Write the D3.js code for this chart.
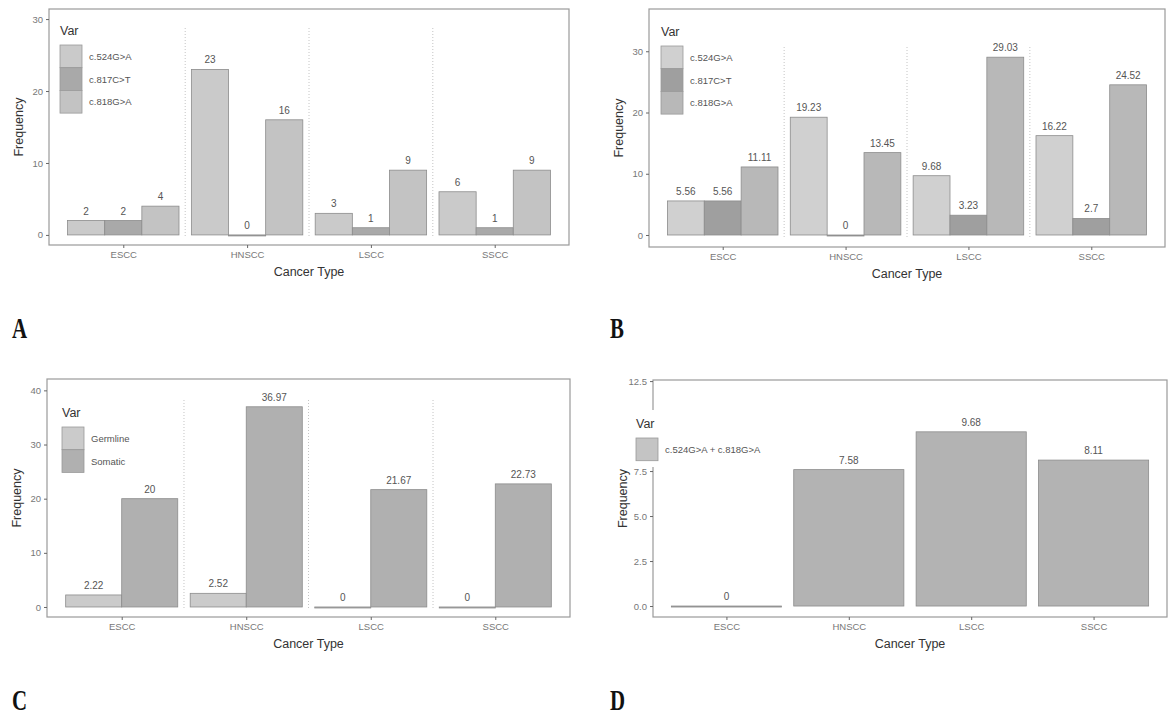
<!DOCTYPE html>
<html>
<head>
<meta charset="utf-8">
<script src="https://cdn.jsdelivr.net/npm/d3@7"></script>
<style>
  body { margin: 0; background: #fff; }
  svg { display: block; font-family: "Liberation Sans", Arial, sans-serif; }
</style>
</head>
<body>
<div id="chart"></div>
<script>
const width = 1173;
const height = 719;

// categories shared by every panel
const cancerTypes = ["ESCC", "HNSCC", "LSCC", "SSCC"];
const variants = ["c.524G>A", "c.817C>T", "c.818G>A"];
const origins = ["Germline", "Somatic"];
const combined = ["c.524G>A + c.818G>A"];

// A: counts
const a524 = [2, 23, 3, 6];
const a817 = [2, 0, 1, 1];
const a818 = [4, 16, 9, 9];
// B: percentages
const b524 = [5.56, 19.23, 9.68, 16.22];
const b817 = [5.56, 0, 3.23, 2.7];
const b818 = [11.11, 13.45, 29.03, 24.52];
// C: germline / somatic
const cGermline = [2.22, 2.52, 0, 0];
const cSomatic = [20, 36.97, 21.67, 22.73];
// D: combined variant
const dCombined = [0, 7.58, 9.68, 8.11];

// tick labels
const ticksA = [0, 10, 20, 30];
const ticksB = [0, 10, 20, 30];
const ticksC = [0, 10, 20, 30, 40];
const ticksD = [0, 2.5, 5, 7.5, 10, 12.5];

const svg = d3.select("#chart")
  .append("svg")
  .attr("width", width)
  .attr("height", height);

function drawPanel(p) {
  const g = svg.append("g");

  const x = d3.scalePoint()
    .domain(cancerTypes)
    .range([p.left, p.right])
    .padding(0.6);
  const step = x.step();

  const sub = d3.scaleBand()
    .domain(p.series)
    .range([-0.45 * step, 0.45 * step])
    .padding(0);

  const y = d3.scaleLinear()
    .domain(p.yDomain)
    .range([p.bottom, p.top]);

  const color = d3.scaleOrdinal()
    .domain(p.series)
    .range(p.colors);

  // dotted separators between cancer types
  if (p.sepTop) {
    g.selectAll(".sep")
      .data(cancerTypes.slice(0, 3))
      .enter()
      .append("line")
      .attr("x1", d => x(d) + step / 2)
      .attr("x2", d => x(d) + step / 2)
      .attr("y1", p.sepTop)
      .attr("y2", y(0) + 2)
      .attr("stroke", "#c4c4c4")
      .attr("stroke-width", 1)
      .attr("stroke-dasharray", "1,2");
  }

  // panel frame
  g.append("rect")
    .attr("x", p.left)
    .attr("y", p.top)
    .attr("width", p.right - p.left)
    .attr("height", p.bottom - p.top)
    .attr("fill", "none")
    .attr("stroke", "#9a9a9a")
    .attr("stroke-width", 1.2);

  const rows = [];
  p.series.forEach((s, si) => {
    p.values[si].forEach((v, ci) => rows.push({ s: s, cat: cancerTypes[ci], v: v }));
  });

  g.selectAll(".bar")
    .data(rows)
    .enter()
    .append("rect")
    .attr("x", d => x(d.cat) + sub(d.s))
    .attr("width", sub.bandwidth())
    .attr("y", d => y(d.v))
    .attr("height", d => Math.max(1, y(0) - y(d.v)))
    .attr("fill", d => color(d.s))
    .attr("stroke", "#8c8c8c")
    .attr("stroke-width", 0.8);

  g.selectAll(".val")
    .data(rows)
    .enter()
    .append("text")
    .attr("x", d => x(d.cat) + sub(d.s) + sub.bandwidth() / 2)
    .attr("y", d => y(d.v) - 6)
    .attr("text-anchor", "middle")
    .attr("font-size", 10)
    .attr("fill", "#555")
    .text(d => d.v);

  // axes
  const yAxis = g.append("g")
    .attr("transform", `translate(${p.left},0)`)
    .call(d3.axisLeft(y).tickValues(p.ticks).tickSize(3).tickPadding(3)
      .tickFormat(p.tickFormat || d3.format("d")));
  yAxis.select(".domain").remove();
  yAxis.selectAll("line").attr("stroke", "#666");
  yAxis.selectAll("text").attr("font-size", 9.5).attr("fill", "#777")
    .attr("font-family", "Liberation Sans, Arial, sans-serif");
  // labels that sit under the legend box are not shown
  if (p.hiddenTicks) {
    yAxis.selectAll(".tick")
      .filter(d => p.hiddenTicks.includes(d))
      .select("text").remove();
  }

  const xAxis = g.append("g")
    .attr("transform", `translate(0,${p.bottom})`)
    .call(d3.axisBottom(x).tickSize(3).tickPadding(3));
  xAxis.select(".domain").remove();
  xAxis.selectAll("line").attr("stroke", "#666");
  xAxis.selectAll("text").attr("font-size", 9.5).attr("fill", "#777")
    .attr("font-family", "Liberation Sans, Arial, sans-serif");

  g.append("text")
    .attr("x", (p.left + p.right) / 2)
    .attr("y", p.bottom + 31)
    .attr("text-anchor", "middle")
    .attr("font-size", 12.5)
    .attr("fill", "#333")
    .text("Cancer Type");

  g.append("text")
    .attr("transform", `translate(${p.left - 26},${(p.top + p.bottom) / 2}) rotate(-90)`)
    .attr("text-anchor", "middle")
    .attr("font-size", 12.5)
    .attr("fill", "#333")
    .text("Frequency");

  // legend
  const lg = g.append("g").attr("transform", `translate(${p.legX},${p.legY})`);
  if (p.legendBg) {
    lg.append("rect")
      .attr("x", p.legendBg[0])
      .attr("y", p.legendBg[1])
      .attr("width", p.legendBg[2])
      .attr("height", p.legendBg[3])
      .attr("fill", "#fff");
  }
  lg.append("text")
    .attr("x", 0)
    .attr("y", 0)
    .attr("font-size", 12.5)
    .attr("fill", "#333")
    .text("Var");
  const item = lg.selectAll(".key")
    .data(p.series)
    .enter()
    .append("g")
    .attr("transform", (d, i) => `translate(0,${10 + i * 22.7})`);
  item.append("rect")
    .attr("width", 22)
    .attr("height", 22.7)
    .attr("fill", d => p.keyColors ? p.keyColors[p.series.indexOf(d)] : color(d))
    .attr("stroke", "#999")
    .attr("stroke-width", 0.8);
  item.append("text")
    .attr("x", 29)
    .attr("y", 15)
    .attr("font-size", 9.5)
    .attr("fill", "#555")
    .text(d => d);
}

drawPanel({
  left: 49, right: 569, top: 9, bottom: 245,
  yDomain: [-1.4, 31.4], ticks: ticksA, sepTop: 28,
  series: variants, values: [a524, a817, a818],
  colors: ["#cacaca", "#a9a9a9", "#c3c3c3"],
  legX: 60, legY: 35
});

drawPanel({
  left: 649, right: 1165, top: 9, bottom: 247,
  yDomain: [-1.96, 36.9], ticks: ticksB, sepTop: 47,
  series: variants, values: [b524, b817, b818],
  colors: ["#d0d0d0", "#9f9f9f", "#b8b8b8"],
  legX: 661, legY: 36
});

drawPanel({
  left: 47, right: 570, top: 379, bottom: 617,
  yDomain: [-1.85, 42.1], ticks: ticksC, sepTop: 400,
  series: origins, values: [cGermline, cSomatic],
  colors: ["#cbcbcb", "#b0b0b0"],
  legX: 62, legY: 417
});

drawPanel({
  left: 653, right: 1167, top: 380, bottom: 617,
  yDomain: [-0.61, 12.56], ticks: ticksD, sepTop: null,
  tickFormat: d3.format(".1f"), hiddenTicks: [10],
  series: combined, values: [dCombined],
  colors: ["#b3b3b3"], keyColors: ["#c4c4c4"],
  legX: 636, legY: 428, legendBg: [-10, -18, 160, 57]
});

// panel letters (tall, narrow bold serif)
const letters = [["A", 12, 338], ["B", 610, 338], ["C", 12, 710], ["D", 610, 710]];
svg.selectAll(".letter")
  .data(letters)
  .enter()
  .append("text")
  .attr("transform", d => `translate(${d[1]},${d[2]}) scale(0.72,1)`)
  .attr("font-family", "Liberation Serif, 'DejaVu Serif', serif")
  .attr("font-weight", "bold")
  .attr("font-size", 29)
  .attr("fill", "#111")
  .text(d => d[0]);
</script>
</body>
</html>
